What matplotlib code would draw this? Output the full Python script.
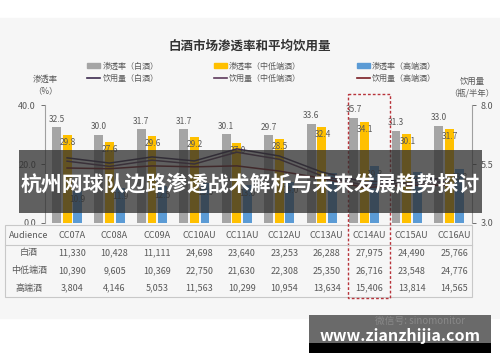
import matplotlib
matplotlib.use("Agg")
import matplotlib.pyplot as plt
from matplotlib.patches import Rectangle
from matplotlib.lines import Line2D
import numpy as np

plt.rcParams['font.family'] = ['Noto Sans CJK SC', 'DejaVu Sans']

## données
audiences = ['CC07A', 'CC08A', 'CC09A', 'CC10AU', 'CC11AU', 'CC12AU',
             'CC13AU', 'CC14AU', 'CC15AU', 'CC16AU']
pen_baijiu = [32.5, 30.0, 31.7, 31.7, 30.1, 29.7, 33.6, 35.7, 31.3, 33.0]
pen_mid = [29.8, 27.6, 29.6, 29.2, 27.0, 28.5, 32.4, 34.1, 30.1, 31.7]
pen_high = [10.9, 11.9, 12.5, 13.5, 13.0, 14.0, 17.0, 19.3, 17.3, 18.3]
vol_baijiu = [5.76, 5.54, 5.80, 5.63, 6.14, 5.84, 5.16, 4.74, 4.82, 4.90]
vol_mid = [5.62, 5.40, 5.66, 5.50, 6.00, 5.70, 5.00, 4.60, 4.70, 4.75]
vol_high = [5.33, 5.30, 5.42, 5.38, 5.42, 5.20, 4.90, 4.50, 4.60, 4.60]
row_names = ['白酒', '中低端酒', '高端酒']
tab_baijiu = [11330, 10428, 11111, 24698, 23640, 23253, 26288, 27975, 24490, 25766]
tab_mid = [10390, 9605, 10369, 22750, 21630, 22308, 25350, 26716, 23548, 24776]
tab_high = [3804, 4146, 5053, 11563, 10299, 10954, 13634, 15406, 13814, 14565]
highlight = 'CC14AU'

c_gray = '#a5a5a5'
c_yel = '#ffc000'
c_blue = '#5b9bd5'
c_l1 = '#3d2b4f'
c_l2 = '#5e3a5c'
c_l3 = '#7a1d25'
c_txt = '#595959'

W, H = 500, 362
fig = plt.figure(figsize=(5, 3.62), dpi=100)

# fond
bg = fig.add_axes([0, 0, 1, 1], zorder=-5)
bg.set_xlim(0, W); bg.set_ylim(H, 0); bg.axis('off')
bg.add_patch(Rectangle((0, 18), W, 300, color='#f6f6f6'))

# graphique
x0, x1, ytop, ybot = 45, 472, 105, 223
ax = fig.add_axes([x0 / W, 1 - ybot / H, (x1 - x0) / W, (ybot - ytop) / H])
ax.patch.set_visible(False)
x = np.arange(len(audiences))
bw = 0.21
off = 0.25
ax.bar(x - off, pen_baijiu, bw, color=c_gray)
ax.bar(x, pen_mid, bw, color=c_yel)
ax.bar(x + off, pen_high, bw, color=c_blue)
for i in range(len(x)):
    ax.text(x[i] - off, pen_baijiu[i] + 1.2, '%.1f' % pen_baijiu[i], ha='center', va='bottom', fontsize=6, color=c_txt)
    ax.text(x[i] + 0.02, pen_mid[i] - 1.0, '%.1f' % pen_mid[i], ha='center', va='top', fontsize=6, color=c_txt)
    ax.text(x[i] + off, pen_high[i] - 1.5, '%.1f' % pen_high[i], ha='center', va='top', fontsize=6, color=c_txt)
ax.set_xlim(-0.52, 9.54)
ax.set_ylim(0, 40)
ax.set_yticks([0, 20, 40])
ax.set_yticklabels(['0.0', '20.0', '40.0'])
ax.set_xticks([])
for s in ['top', 'bottom', 'right']:
    ax.spines[s].set_visible(False)
ax.spines['left'].set_color('#a0a0a0')
ax.tick_params(axis='y', labelsize=6.5, colors=c_txt, length=3, width=0.6)

ax2 = ax.twinx()
ax2.patch.set_visible(False)
ax2.plot(x, vol_baijiu, color=c_l1, lw=1.1)
ax2.plot(x, vol_mid, color=c_l2, lw=1.1)
ax2.plot(x, vol_high, color=c_l3, lw=1.1)
ax2.set_ylim(3, 8)
ax2.set_yticks([3, 5.5, 8])
ax2.set_yticklabels(['3.0', '5.5', '8.0'])
for s in ['top', 'bottom', 'left']:
    ax2.spines[s].set_visible(False)
ax2.spines['right'].set_color('#a0a0a0')
ax2.tick_params(axis='y', labelsize=6.5, colors=c_txt, length=3, width=0.6)

# titre, légende, axes
fig.text(250 / W, 1 - 46 / H, '白酒市场渗透率和平均饮用量', ha='center', va='center',
         fontsize=9, fontweight='bold', color='#333333')
handles = [Rectangle((0, 0), 1, 1, color=c_gray), Line2D([], [], color=c_l1, lw=1.2),
           Rectangle((0, 0), 1, 1, color=c_yel), Line2D([], [], color=c_l2, lw=1.2),
           Rectangle((0, 0), 1, 1, color=c_blue), Line2D([], [], color=c_l3, lw=1.2)]
labels = ['渗透率（白酒）', '饮用量（白酒）', '渗透率（中低端酒）', '饮用量（中低端酒）',
          '渗透率（高端酒）', '饮用量（高端酒）']
fig.legend(handles, labels, ncol=3, loc='center left', bbox_to_anchor=(83 / W, 1 - 72 / H),
           frameon=False, fontsize=5.8, handlelength=1.6, handleheight=0.45, handletextpad=0.3,
           columnspacing=6.9, labelspacing=0.4, labelcolor=c_txt, borderpad=0)
fig.text(45 / W, 1 - 85 / H, '渗透率\n（%）', ha='center', va='center', fontsize=6, color=c_txt, linespacing=1.3)
fig.text(472 / W, 1 - 87 / H, '饮用量\n（瓶/半年）', ha='center', va='center', fontsize=6, color=c_txt, linespacing=1.3)

# tableau, cadre, bandeau
fg = fig.add_axes([0, 0, 1, 1], zorder=5)
fg.set_xlim(0, W); fg.set_ylim(H, 0); fg.axis('off')
fg.patch.set_visible(False)

def colx(i):
    return x0 + (i + 0.52) / 10.06 * (x1 - x0) + 5

fg.add_patch(Rectangle((5, 225), 467, 72, fill=False, ec='#c8c8c8', lw=0.8))
fg.plot([5, 472], [245, 245], color='#c8c8c8', lw=0.8)
fg.text(29, 236, 'Audience', ha='center', va='center', fontsize=6.5, color=c_txt)
rows = [tab_baijiu, tab_mid, tab_high]
for r in range(3):
    yy = 253 + r * 17.5
    fg.text(29, yy, row_names[r], ha='center', va='center', fontsize=6.5, color=c_txt)
    for i in range(len(audiences)):
        fg.text(colx(i), yy, '{:,}'.format(rows[r][i]), ha='center', va='center', fontsize=6.5, color=c_txt)
for i in range(len(audiences)):
    fg.text(colx(i), 236, audiences[i], ha='center', va='center', fontsize=6.5, color=c_txt)

k = audiences.index(highlight)
fg.add_patch(Rectangle((colx(k) - 21, 94), 42, 204, fill=False, ec='#b8333a', lw=1.0, ls=(0, (2, 1.5))))

fg.add_patch(Rectangle((19, 150), 463, 63, color='#2e2e2e', alpha=0.75, lw=0))
fg.text(250, 184, '杭州网球队边路渗透战术解析与未来发展趋势探讨', ha='center', va='center',
        fontsize=15, fontweight='bold', color='white')

fg.add_patch(Rectangle((309, 315), 182, 28, color='#6a6a6a', lw=0))
fg.add_patch(Rectangle((309, 343), 182, 10, color='black', lw=0))
fg.text(420, 321, '微信号: sinomonitor', ha='center', va='center', fontsize=7, color='#888888')
fg.text(400, 336, 'www.zianzhijia.com', ha='center', va='center', fontsize=11.5,
        fontweight='bold', color='white')

fig.savefig('out.png', dpi=100)
